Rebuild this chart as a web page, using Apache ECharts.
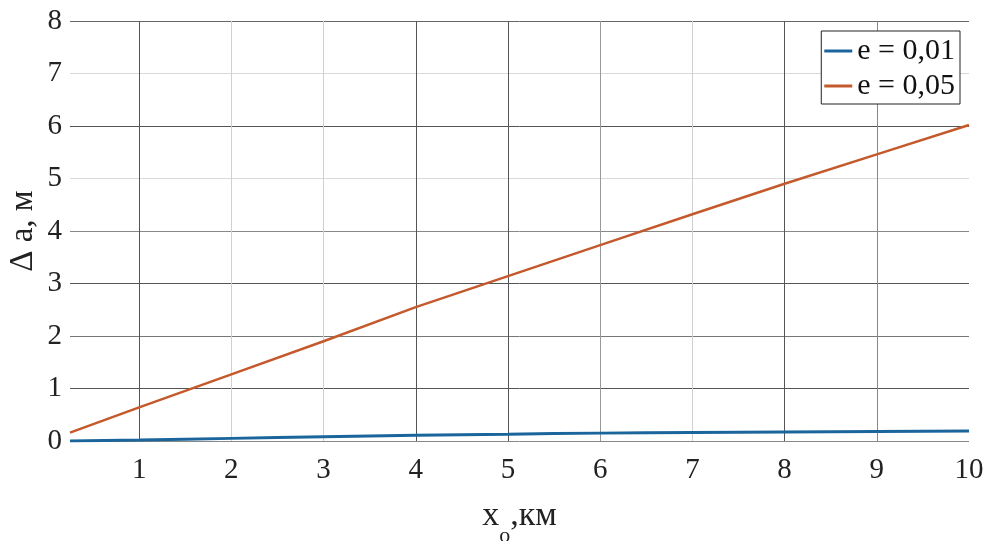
<!DOCTYPE html>
<html>
<head>
<meta charset="utf-8">
<script src="https://cdn.jsdelivr.net/npm/echarts@6/dist/echarts.min.js"></script>
<style>
  html, body { margin: 0; padding: 0; background: #fff; }
  #chart { width: 989px; height: 541px; }
</style>
</head>
<body>
<div id="chart"></div>
<script>
// значения
const xData = [0.25, 1, 2, 3, 4, 5, 6, 7, 8, 9, 10];
const e001 = [0, 0.02, 0.05, 0.08, 0.11, 0.13, 0.15, 0.16, 0.17, 0.18, 0.19];
const e005 = [0.16, 0.64, 1.27, 1.9, 2.55, 3.14, 3.73, 4.32, 4.9, 5.46, 6.02];
const seriesNames = ["e = 0,01", "e = 0,05"];

// цвета линий сетки (как на исходнике: часть линий темнее)
const xGridColors = ["rgba(0,0,0,0)", "#555", "#d0d0d0", "#d0d0d0", "#555", "#555", "#999", "#d0d0d0", "#555", "#888", "rgba(0,0,0,0)"];
const yGridColors = ["#888", "#555", "#777", "#555", "#888", "#d8d8d8", "#555", "#d8d8d8", "#666"];

const serif = "Liberation Serif";

function pairs(ys) {
  let out = [];
  for (let i = 0; i < xData.length; i++) {
    out.push([xData[i], ys[i]]);
  }
  return out;
}

let chart = echarts.init(document.getElementById("chart"));
let option = {
  backgroundColor: "#fff",
  animation: false,
  grid: {
    left: 70,
    right: 20,
    top: 21,
    bottom: 100,
    outerBoundsMode: "none"
  },
  legend: {
    data: seriesNames,
    orient: "vertical",
    right: 29,
    top: 31,
    padding: [5, 5, 3, 3],
    icon: "rect",
    itemWidth: 28,
    itemHeight: 3,
    itemGap: 5,
    backgroundColor: "#fff",
    borderColor: "#222",
    borderWidth: 1,
    borderRadius: 0,
    textStyle: {
      fontFamily: serif,
      fontSize: 30,
      color: "#111"
    }
  },
  xAxis: {
    type: "value",
    min: 0.25,
    max: 10,
    minInterval: 1,
    maxInterval: 1,
    splitNumber: 10,
    axisLine: { show: false },
    axisTick: { show: false },
    axisLabel: {
      showMinLabel: false,
      margin: 15,
      fontFamily: serif,
      fontSize: 29,
      color: "#222",
      formatter: function (v) {
        return v < 1 ? "" : String(v);
      }
    },
    splitLine: {
      show: true,
      lineStyle: { color: xGridColors, width: 1 }
    },
    name: "{a|x}{b|o}{a|,км}",
    nameLocation: "middle",
    nameGap: 58,
    nameTextStyle: {
      rich: {
        a: {
          fontFamily: serif,
          fontSize: 34,
          lineHeight: 36,
          color: "#222",
          verticalAlign: "top"
        },
        b: {
          fontFamily: serif,
          fontSize: 22,
          lineHeight: 22,
          color: "#222",
          verticalAlign: "top",
          padding: [26, 0, 0, 0]
        }
      }
    }
  },
  yAxis: {
    type: "value",
    min: 0,
    max: 8,
    interval: 1,
    axisLine: { show: false },
    axisTick: { show: false },
    axisLabel: {
      margin: 8,
      fontFamily: serif,
      fontSize: 29,
      color: "#222"
    },
    splitLine: {
      show: true,
      lineStyle: { color: yGridColors, width: 1 }
    },
    name: "Δ a, м",
    nameLocation: "middle",
    nameGap: 30,
    nameMoveOverlap: false,
    nameTextStyle: {
      fontFamily: serif,
      fontSize: 33,
      color: "#222"
    }
  },
  series: [
    {
      name: seriesNames[0],
      type: "line",
      data: pairs(e001),
      symbol: "none",
      smooth: true,
      lineStyle: { color: "#1a659c", width: 3 },
      itemStyle: { color: "#1a659c" }
    },
    {
      name: seriesNames[1],
      type: "line",
      data: pairs(e005),
      symbol: "none",
      lineStyle: { color: "#c45a2c", width: 2.5 },
      itemStyle: { color: "#c45a2c" }
    }
  ]
};
chart.setOption(option);
</script>
</body>
</html>
